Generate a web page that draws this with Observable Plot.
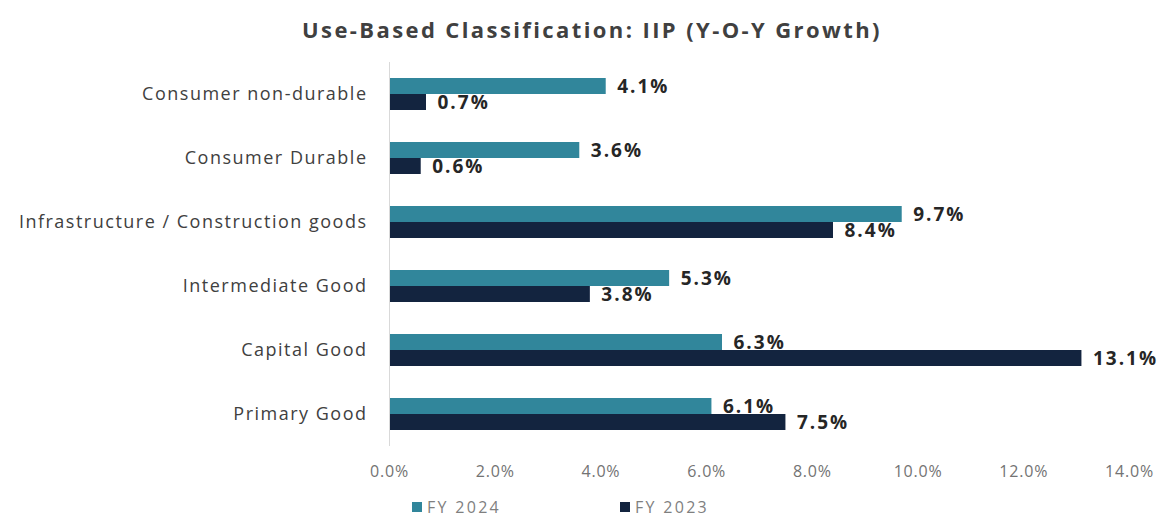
<!DOCTYPE html>
<html>
<head>
<meta charset="utf-8">
<script src="https://cdn.jsdelivr.net/npm/d3@7"></script>
<script src="https://cdn.jsdelivr.net/npm/@observablehq/plot@0.6"></script>
<style>
  html, body { margin: 0; padding: 0; background: #fff; }
  body { width: 1174px; height: 528px; overflow: hidden; font-family: "Open Sans", Lato, sans-serif; position: relative; }
  #title { height: 50px; line-height: 58px; text-align: center; font-size: 22px; font-weight: bold; color: #404040; letter-spacing: 2.4px; padding-left: 10px; }
  #legend { position: absolute; top: 496px; left: 0; width: 1174px; height: 22px; font-size: 16px; color: #7f7f7f; letter-spacing: 2.3px; }
  .li { position: absolute; display: flex; align-items: center; gap: 5px; }
  .sw { width: 10px; height: 10px; display: inline-block; }
  svg text { font-family: "Open Sans", Lato, sans-serif; }
  g[aria-label="text"] text { letter-spacing: 2px; }
  g[aria-label="fy-axis tick label"] text { letter-spacing: 1.5px; }
  g[aria-label="x-axis tick label"] text { letter-spacing: 0.8px; }
</style>
</head>
<body>
<div id="title">Use-Based Classification: IIP (Y-O-Y Growth)</div>
<div id="chart"></div>
<div id="legend"></div>
<script>
const categories = ["Consumer non-durable", "Consumer Durable", "Infrastructure / Construction goods", "Intermediate Good", "Capital Good", "Primary Good"];
const series = ["FY 2024", "FY 2023"];
const fy2024 = [4.1, 3.6, 9.7, 5.3, 6.3, 6.1];
const fy2023 = [0.7, 0.6, 8.4, 3.8, 13.1, 7.5];
const xTicks = [0, 2, 4, 6, 8, 10, 12, 14];
const colors = ["#31869b", "#13243f"];

const data = [];
categories.forEach((c, i) => {
  data.push({category: c, series: series[0], value: fy2024[i]});
  data.push({category: c, series: series[1], value: fy2023[i]});
});

const chart = Plot.plot({
  width: 1174,
  height: 440,
  marginLeft: 389,
  marginRight: 45,
  marginTop: 11,
  marginBottom: 43,
  style: {background: "transparent", overflow: "visible"},
  x: {domain: [0, 14]},
  y: {domain: series, paddingInner: 0, paddingOuter: 0.95, axis: null},
  fy: {domain: categories, padding: 0},
  color: {domain: series, range: colors},
  marks: [
    Plot.barX(data, {x: "value", y: "series", fy: "category", fill: "series"}),
    Plot.ruleX([0], {stroke: "#d9d9d9", strokeWidth: 1}),
    Plot.text(data, {x: "value", y: "series", fy: "category", text: d => d.value.toFixed(1) + "%",
      textAnchor: "start", dx: 11, dy: 0, fontWeight: "bold", fontSize: 19, fill: "#262626"}),
    Plot.axisFy({anchor: "left", tickSize: 0, tickPadding: 22, label: null, fontSize: 18, fill: "#404040"}),
    Plot.axisX({ticks: xTicks, tickSize: 0, tickPadding: 19, label: null, fontSize: 16, fill: "#737373",
      tickFormat: d => d.toFixed(1) + "%"})
  ]
});
document.getElementById("chart").appendChild(chart);

const legend = document.getElementById("legend");
const lx = [412, 620];
series.forEach((s, i) => {
  const el = document.createElement("div");
  el.className = "li";
  el.style.left = lx[i] + "px";
  el.innerHTML = `<span class="sw" style="background:${colors[i]}"></span><span>${s}</span>`;
  legend.appendChild(el);
});
</script>
</body>
</html>
